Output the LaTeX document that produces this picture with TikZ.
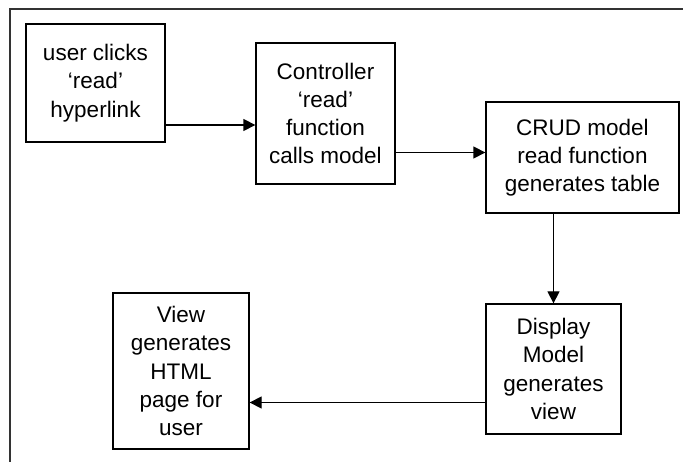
\documentclass[tikz,border=0pt]{standalone}
\usepackage{fontspec}
\setmainfont{Liberation Sans}
\usetikzlibrary{arrows.meta}
\begin{document}
\begin{tikzpicture}[x=1pt,y=-1pt,
  box/.style={draw=black, line width=1.3pt, rectangle, inner sep=0pt, align=center,
    font=\fontsize{22.5}{28.3}\selectfont},
  arr/.style={line width=1.3pt, -{Triangle[length=12pt,width=12pt]}},
  frame/.style={draw=black!80, line width=2pt}]
\useasboundingbox (0,0) rectangle (683,462);
\fill[white] (0,0) rectangle (683,462);
\coordinate (ftop) at (683,9);
\coordinate (fcorner) at (10,9);
\coordinate (fbot) at (10,462);
\draw[frame] (ftop) -- (fcorner) -- (fbot);
\node[box, minimum width=139pt, minimum height=118pt] (b1) at (95.5,83) {user clicks\\‘read’\\hyperlink};
\node[box, minimum width=139pt, minimum height=141pt] (b2) at (325.5,113.5) {Controller\\‘read’\\function\\calls model};
\node[box, minimum width=193pt, minimum height=111pt] (b3) at (582.5,157.5) {CRUD model\\read function\\generates table};
\node[box, minimum width=135pt, minimum height=130pt] (b4) at (553.5,369) {Display\\Model\\generates\\view};
\node[box, minimum width=136pt, minimum height=156pt] (b5) at (181,371) {View\\generates\\HTML\\page for\\user};
\coordinate (y1) at (0,125);
\coordinate (y2) at (0,152.5);
\coordinate (y4) at (0,402.5);
\draw[arr] (b1.east |- y1) -- (b2.west |- y1);
\draw[arr] (b2.east |- y2) -- (b3.west |- y2);
\draw[arr] (b3.south -| b4.north) -- (b4.north);
\draw[arr] (b4.west |- y4) -- (b5.east |- y4);
\end{tikzpicture}
\end{document}
